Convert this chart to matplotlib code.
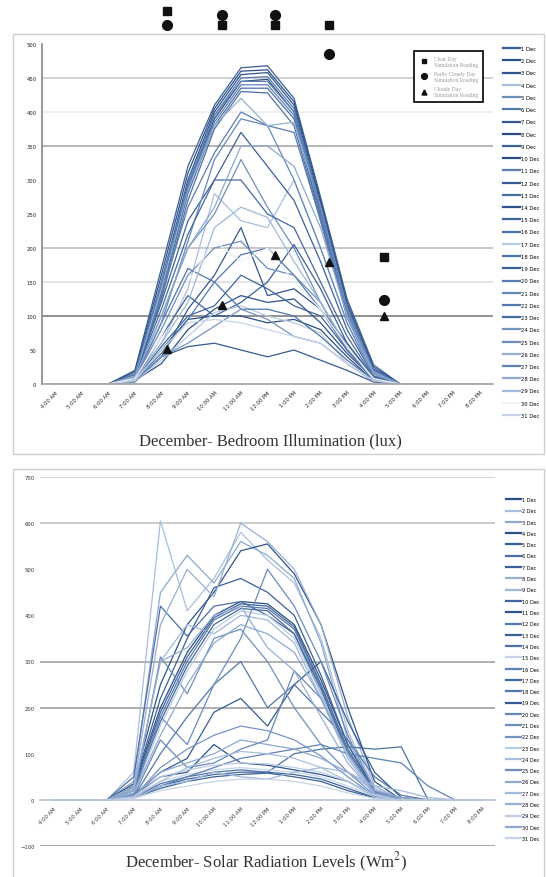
import matplotlib
matplotlib.use("Agg")
import matplotlib.pyplot as plt
from matplotlib.patches import Rectangle
from matplotlib.lines import Line2D

plt.rcParams["mathtext.fontset"] = "stix"

hours = ["4:00 AM", "5:00 AM", "6:00 AM", "7:00 AM", "8:00 AM", "9:00 AM",
         "10:00 AM", "11:00 AM", "12:00 PM", "1:00 PM", "2:00 PM", "3:00 PM",
         "4:00 PM", "5:00 PM", "6:00 PM", "7:00 PM", "8:00 PM"]
days = ["%d Dec" % d for d in range(1, 32)]

# bedroom illuminance (lux), hourly, one list per day
lux_01 = [0, 0, 0, 20, 170, 320, 410, 465, 468, 420, 275, 125, 28, 0, 0, 0, 0]
lux_02 = [0, 0, 0, 18, 160, 310, 405, 460, 462, 415, 270, 120, 25, 0, 0, 0, 0]
lux_03 = [0, 0, 0, 15, 150, 300, 400, 455, 458, 410, 265, 115, 22, 0, 0, 0, 0]
lux_04 = [0, 0, 0, 10, 60, 140, 280, 240, 230, 300, 200, 90, 15, 0, 0, 0, 0]
lux_05 = [0, 0, 0, 8, 100, 200, 250, 330, 260, 200, 120, 50, 10, 0, 0, 0, 0]
lux_06 = [0, 0, 0, 14, 145, 295, 395, 450, 452, 405, 260, 112, 20, 0, 0, 0, 0]
lux_07 = [0, 0, 0, 5, 40, 110, 160, 230, 130, 140, 110, 60, 10, 0, 0, 0, 0]
lux_08 = [0, 0, 0, 12, 140, 290, 390, 445, 448, 400, 255, 108, 18, 0, 0, 0, 0]
lux_09 = [0, 0, 0, 5, 70, 130, 100, 120, 150, 205, 140, 60, 8, 0, 0, 0, 0]
lux_10 = [0, 0, 0, 5, 50, 95, 100, 100, 90, 95, 80, 40, 5, 0, 0, 0, 0]
lux_11 = [0, 0, 0, 12, 135, 285, 385, 440, 440, 395, 250, 105, 18, 0, 0, 0, 0]
lux_12 = [0, 0, 0, 3, 40, 55, 60, 50, 40, 50, 35, 20, 3, 0, 0, 0, 0]
lux_13 = [0, 0, 0, 10, 130, 280, 380, 435, 435, 390, 245, 100, 16, 0, 0, 0, 0]
lux_14 = [0, 0, 0, 5, 30, 80, 110, 130, 120, 125, 90, 45, 8, 0, 0, 0, 0]
lux_15 = [0, 0, 0, 6, 55, 100, 115, 160, 140, 115, 100, 50, 6, 0, 0, 0, 0]
lux_16 = [0, 0, 0, 10, 125, 270, 375, 430, 428, 380, 240, 98, 15, 0, 0, 0, 0]
lux_17 = [0, 0, 0, 4, 35, 70, 105, 115, 100, 90, 75, 30, 5, 0, 0, 0, 0]
lux_18 = [0, 0, 0, 6, 90, 170, 150, 110, 110, 100, 70, 35, 6, 0, 0, 0, 0]
lux_19 = [0, 0, 0, 10, 120, 240, 300, 370, 320, 270, 180, 80, 12, 0, 0, 0, 0]
lux_20 = [0, 0, 0, 12, 130, 260, 340, 400, 380, 370, 240, 100, 15, 0, 0, 0, 0]
lux_21 = [0, 0, 0, 8, 90, 210, 330, 390, 380, 300, 200, 90, 10, 0, 0, 0, 0]
lux_22 = [0, 0, 0, 5, 45, 95, 150, 190, 200, 160, 110, 50, 6, 0, 0, 0, 0]
lux_23 = [0, 0, 0, 10, 110, 220, 300, 300, 250, 230, 150, 70, 10, 0, 0, 0, 0]
lux_24 = [0, 0, 0, 4, 40, 60, 85, 110, 95, 70, 60, 30, 4, 0, 0, 0, 0]
lux_25 = [0, 0, 0, 8, 80, 160, 200, 210, 170, 160, 120, 55, 8, 0, 0, 0, 0]
lux_26 = [0, 0, 0, 12, 140, 285, 380, 420, 380, 385, 260, 110, 18, 0, 0, 0, 0]
lux_27 = [0, 0, 0, 14, 150, 290, 395, 445, 445, 400, 258, 110, 20, 0, 0, 0, 0]
lux_28 = [0, 0, 0, 10, 100, 200, 260, 350, 350, 320, 230, 100, 15, 0, 0, 0, 0]
lux_29 = [0, 0, 0, 6, 60, 120, 230, 260, 245, 180, 120, 55, 6, 0, 0, 0, 0]
lux_30 = [0, 0, 0, 8, 70, 150, 210, 180, 200, 150, 110, 55, 8, 0, 0, 0, 0]
lux_31 = [0, 0, 0, 5, 50, 90, 95, 90, 80, 70, 60, 30, 5, 0, 0, 0, 0]
lux = [lux_01, lux_02, lux_03, lux_04, lux_05, lux_06, lux_07, lux_08,
       lux_09, lux_10, lux_11, lux_12, lux_13, lux_14, lux_15, lux_16,
       lux_17, lux_18, lux_19, lux_20, lux_21, lux_22, lux_23, lux_24,
       lux_25, lux_26, lux_27, lux_28, lux_29, lux_30, lux_31]

# simulation readings, placed by hour index
sim_x = [4.2, 6.3, 8.3, 10.3, 12.4]
clear_sim = [548, 528, 528, 528, 187]
partly_sim = [528, 543, 543, 485, 124]
cloudy_sim = [51, 116, 190, 179, 100]

# solar radiation (W/m2), hourly, one list per day
rad_01 = [0, 0, 0, 30, 200, 320, 400, 430, 425, 380, 260, 120, 20, 0, 0, 0, 0]
rad_02 = [0, 0, 0, 60, 605, 410, 480, 580, 520, 470, 350, 150, 25, 0, 0, 0, 0]
rad_03 = [0, 0, 0, 40, 450, 530, 470, 560, 530, 480, 340, 130, 20, 0, 0, 0, 0]
rad_04 = [0, 0, 0, 35, 250, 380, 450, 540, 555, 490, 380, 200, 40, 0, 0, 0, 0]
rad_05 = [0, 0, 0, 30, 220, 350, 460, 480, 450, 400, 270, 120, 20, 0, 0, 0, 0]
rad_06 = [0, 0, 0, 50, 420, 355, 420, 430, 400, 360, 230, 100, 15, 0, 0, 0, 0]
rad_07 = [0, 0, 0, 25, 190, 310, 395, 425, 420, 375, 250, 110, 18, 0, 0, 0, 0]
rad_08 = [0, 0, 0, 30, 380, 500, 440, 600, 560, 500, 380, 180, 30, 0, 0, 0, 0]
rad_09 = [0, 0, 0, 25, 300, 380, 360, 400, 390, 340, 220, 90, 10, 0, 0, 0, 0]
rad_10 = [0, 0, 0, 5, 30, 45, 55, 60, 60, 55, 45, 25, 5, 0, 0, 0, 0]
rad_11 = [0, 0, 0, 10, 50, 60, 120, 80, 75, 65, 55, 40, 10, 0, 0, 0, 0]
rad_12 = [0, 0, 0, 20, 180, 300, 390, 420, 415, 370, 245, 105, 15, 0, 0, 0, 0]
rad_13 = [0, 0, 0, 5, 25, 40, 50, 55, 58, 50, 40, 20, 5, 0, 0, 0, 0]
rad_14 = [0, 0, 0, 5, 35, 50, 60, 65, 60, 100, 110, 115, 110, 115, 0, 0, 0]
rad_15 = [0, 0, 0, 8, 40, 55, 65, 70, 65, 60, 50, 30, 8, 0, 0, 0, 0]
rad_16 = [0, 0, 0, 4, 30, 50, 70, 90, 100, 110, 120, 100, 90, 80, 30, 0, 0]
rad_17 = [0, 0, 0, 20, 170, 290, 380, 415, 410, 360, 240, 100, 15, 0, 0, 0, 0]
rad_18 = [0, 0, 0, 6, 100, 180, 250, 300, 200, 250, 190, 130, 50, 10, 0, 0, 0]
rad_19 = [0, 0, 0, 10, 60, 90, 190, 220, 160, 250, 300, 170, 60, 5, 0, 0, 0]
rad_20 = [0, 0, 0, 8, 130, 70, 80, 110, 130, 280, 220, 100, 20, 0, 0, 0, 0]
rad_21 = [0, 0, 0, 10, 310, 230, 350, 370, 300, 200, 120, 60, 10, 0, 0, 0, 0]
rad_22 = [0, 0, 0, 6, 70, 110, 140, 160, 150, 130, 95, 50, 8, 0, 0, 0, 0]
rad_23 = [0, 0, 0, 15, 160, 280, 370, 410, 400, 350, 230, 95, 12, 0, 0, 0, 0]
rad_24 = [0, 0, 0, 5, 40, 70, 90, 105, 100, 90, 70, 40, 6, 0, 0, 0, 0]
rad_25 = [0, 0, 0, 12, 180, 120, 250, 350, 500, 420, 300, 140, 20, 0, 0, 0, 0]
rad_26 = [0, 0, 0, 8, 60, 80, 100, 130, 120, 110, 90, 60, 20, 5, 0, 0, 0]
rad_27 = [0, 0, 0, 4, 30, 40, 60, 50, 45, 60, 70, 60, 30, 20, 5, 0, 0]
rad_28 = [0, 0, 0, 20, 300, 330, 400, 420, 330, 280, 180, 80, 12, 0, 0, 0, 0]
rad_29 = [0, 0, 0, 6, 50, 65, 75, 80, 78, 70, 60, 40, 10, 0, 0, 0, 0]
rad_30 = [0, 0, 0, 15, 140, 250, 340, 380, 360, 320, 220, 100, 15, 0, 0, 0, 0]
rad_31 = [0, 0, 0, 3, 20, 30, 40, 45, 45, 40, 30, 15, 3, 0, 0, 0, 0]
rad = [rad_01, rad_02, rad_03, rad_04, rad_05, rad_06, rad_07, rad_08,
       rad_09, rad_10, rad_11, rad_12, rad_13, rad_14, rad_15, rad_16,
       rad_17, rad_18, rad_19, rad_20, rad_21, rad_22, rad_23, rad_24,
       rad_25, rad_26, rad_27, rad_28, rad_29, rad_30, rad_31]

lux_colors = ["#3a5f94", "#2d5189", "#2f548c", "#a8bfdc", "#6f8fbd", "#5679ad",
              "#34578f", "#2a4d85", "#3c6298", "#2b4e86", "#5b7fb3", "#365b92",
              "#4a6fa5", "#2e5289", "#3f659c", "#4d72a8", "#b9cce3", "#4e74aa",
              "#3b6199", "#5a7eb2", "#6688bb", "#5277ad", "#4469a0", "#7694c2",
              "#6c8cbf", "#98b0d4", "#5f82b6", "#8ea9d0", "#a0b8d9", "#f0f2f5",
              "#c5d4e8"]
rad_colors = ["#2b4e86", "#a8bfdc", "#8ea9d0", "#2d5189", "#3a5f94", "#4a6fa5",
              "#3c6298", "#98b0d4", "#a0b8d9", "#3f659c", "#2f548c", "#5679ad",
              "#3b6199", "#4d72a8", "#c5d4e8", "#5f82b6", "#4469a0", "#5277ad",
              "#365b92", "#6688bb", "#6f8fbd", "#7694c2", "#b9cce3", "#a8bfdc",
              "#6c8cbf", "#8ea9d0", "#a0b8d9", "#98b0d4", "#b9cce3", "#8ea9d0",
              "#c5d4e8"]

W, H = 546, 878
fig = plt.figure(figsize=(W / 100, H / 100), dpi=100)

# light frames around each chart
fig.add_artist(Rectangle((13 / W, 1 - 455 / H), (544 - 13) / W, (455 - 35) / H,
                         transform=fig.transFigure, fill=False, ec="#cfcfcf", lw=1))
fig.add_artist(Rectangle((13 / W, -0.01), (544 - 13) / W, 1 - 470 / H + 0.01,
                         transform=fig.transFigure, fill=False, ec="#cfcfcf", lw=1))

x = list(range(len(hours)))

# ---- bedroom illumination ----
ax1 = fig.add_axes([42 / W, 1 - 385 / H, (493 - 42) / W, (385 - 45) / H])
for v, c in [(450, "#cfcfcf"), (400, "#eeeeee"), (350, "#b0b0b0"),
             (200, "#c4c4c4"), (150, "#e2e2e2"), (100, "#8a8a8a")]:
    ax1.axhline(v, color=c, lw=1.3, zorder=0)
for series, c in zip(lux, lux_colors):
    ax1.plot(x, series, color=c, lw=0.9)
ax1.plot(sim_x, clear_sim, "s", color="#111111", ms=5.5, clip_on=False,
         label="Clear Day\nSimulation Reading")
ax1.plot(sim_x, partly_sim, "o", color="#111111", ms=7, clip_on=False,
         label="Partly Cloudy Day\nSimulation Reading")
ax1.plot(sim_x, cloudy_sim, "^", color="#111111", ms=6, clip_on=False,
         label="Cloudy Day\nSimulation Reading")
ax1.set_xlim(-0.5, 16.5)
ax1.set_ylim(0, 500)
ax1.set_yticks(range(0, 501, 50))
ax1.set_xticks(x)
ax1.set_xticklabels(hours, rotation=45, ha="right", rotation_mode="anchor")
ax1.tick_params(axis="both", length=0, labelsize=3.8, labelcolor="#222222", pad=4)
for s in ("top", "right"):
    ax1.spines[s].set_visible(False)
ax1.spines["left"].set_color("#888888")
ax1.spines["left"].set_linewidth(1.2)
ax1.spines["bottom"].set_color("#a0a0a0")
ax1.spines["bottom"].set_linewidth(1.2)

leg = ax1.legend(loc="upper left", bbox_to_anchor=(411 / W, 1 - 49 / H),
                 bbox_transform=fig.transFigure, labelcolor="#9a9a9a",
                 prop={"family": "Liberation Serif", "size": 4},
                 fancybox=False, edgecolor="black", framealpha=1,
                 markerscale=0.6, handletextpad=0.8, borderpad=0.9, labelspacing=0.8)
leg.get_frame().set_linewidth(1.2)

fig.legend([Line2D([], [], color=c, lw=1.6) for c in lux_colors], days,
           loc="upper left", bbox_to_anchor=(503 / W, 1 - 47 / H),
           frameon=False, fontsize=3.8, handlelength=3.2, handletextpad=0.3,
           labelspacing=1.37, borderaxespad=0, borderpad=0)

fig.text(270 / W, 1 - 441 / H, "December- Bedroom Illumination (lux)",
         ha="center", va="center", fontsize=12, family="Liberation Serif",
         color="#333333")

# ---- solar radiation ----
ax2 = fig.add_axes([40 / W, 1 - 847 / H, (495 - 40) / W, (847 - 478) / H])
for s in ("top", "right", "left"):
    ax2.spines[s].set_visible(False)
ax2.spines["bottom"].set_position(("data", 0))
ax2.spines["bottom"].set_color("#b8c6da")
ax2.spines["bottom"].set_linewidth(1.2)
for v, c in [(700, "#d2d2d2"), (600, "#c8c8c8"), (300, "#a8a8a8"),
             (200, "#a8a8a8"), (-100, "#9c9c9c")]:
    ax2.axhline(v, color=c, lw=1.3, zorder=0)
for series, c in zip(rad, rad_colors):
    ax2.plot(x, series, color=c, lw=0.9)
ax2.set_xlim(-0.5, 16.5)
ax2.set_ylim(-100, 700)
ax2.set_yticks(range(-100, 701, 100))
ax2.set_xticks(x)
ax2.set_xticklabels(hours, rotation=45, ha="right", rotation_mode="anchor")
ax2.tick_params(axis="both", length=0, labelsize=3.8, labelcolor="#333333", pad=4)

fig.legend([Line2D([], [], color=c, lw=1.6) for c in rad_colors], days,
           loc="upper left", bbox_to_anchor=(506 / W, 1 - 498 / H),
           frameon=False, fontsize=3.6, handlelength=3.0, handletextpad=0.3,
           labelspacing=1.26, borderaxespad=0, borderpad=0)

fig.text(266 / W, 1 - 862 / H, "December- Solar Radiation Levels (Wm$^2$)",
         ha="center", va="center", fontsize=12, family="Liberation Serif",
         color="#333333")

fig.savefig("out.png", dpi=100)
